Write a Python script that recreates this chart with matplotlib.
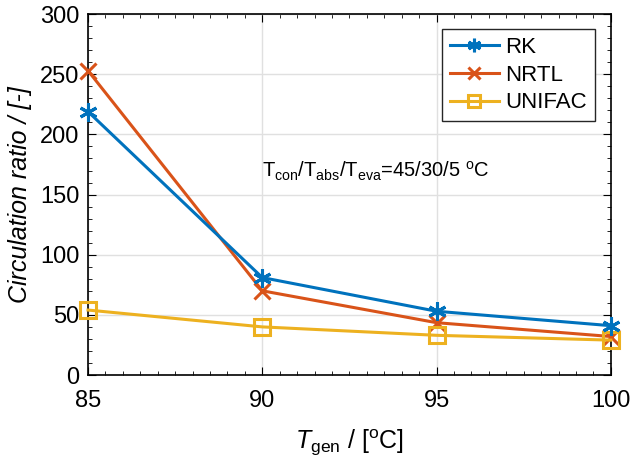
import matplotlib
matplotlib.use('Agg')
import matplotlib.pyplot as plt
from matplotlib.ticker import MultipleLocator

plt.rcParams['font.family'] = ['Liberation Sans', 'DejaVu Sans']
plt.rcParams['mathtext.fontset'] = 'custom'
plt.rcParams['mathtext.rm'] = 'Liberation Sans'
plt.rcParams['mathtext.it'] = 'Liberation Sans:italic'

# data
t_gen = [85, 90, 95, 100]
rk = [219, 81, 53, 41]
nrtl = [253, 70, 43.5, 32]
unifac = [54, 40, 33, 29]

fig = plt.figure(figsize=(6.31, 4.72), dpi=100)
ax = fig.add_axes([0.1395, 0.2055, 0.8285, 0.7645])

ax.plot(t_gen, rk, color='#0072BD', lw=2.2, marker=(6, 2, 0), ms=13, mew=2.2,
        label='RK', clip_on=False, zorder=4)
ax.plot(t_gen, nrtl, color='#D95319', lw=2.2, marker='x', ms=11, mew=2.2,
        label='NRTL', clip_on=False, zorder=3)
ax.plot(t_gen, unifac, color='#EDB120', lw=2.2, marker='s', ms=11, mew=2.2,
        mfc='none', label='UNIFAC', clip_on=False, zorder=3)

ax.set_xlim(85, 100)
ax.set_ylim(0, 300)
ax.xaxis.set_major_locator(MultipleLocator(5))
ax.xaxis.set_minor_locator(MultipleLocator(0.5))
ax.yaxis.set_major_locator(MultipleLocator(50))
ax.yaxis.set_minor_locator(MultipleLocator(10))
ax.tick_params(which='both', direction='in', top=True, right=True, labelsize=17)
ax.tick_params(which='major', length=6)
ax.tick_params(which='minor', length=3)
ax.tick_params(axis='x', pad=11)
ax.tick_params(axis='y', pad=6)
ax.grid(True, which='major', color='#e0e0e0', lw=1)
ax.set_axisbelow(True)
for s in ax.spines.values():
    s.set_linewidth(1.2)

ax.set_xlabel(r'$\mathit{T}_{\mathrm{gen}}$ / [$^{\mathrm{o}}$C]', fontsize=18, labelpad=11)
ax.set_ylabel('Circulation ratio / [-]', fontsize=18, style='italic', labelpad=6)

ax.text(90, 164.5, r'T$_{\mathrm{con}}$/T$_{\mathrm{abs}}$/T$_{\mathrm{eva}}$=45/30/5 $^{\mathrm{o}}$C',
        fontsize=14.5, va='baseline', ha='left')

leg = ax.legend(loc='upper right', fontsize=16, fancybox=False, framealpha=1,
                edgecolor='#262626', handlelength=2.2, handletextpad=0.3,
                borderpad=0.35, labelspacing=0.3, borderaxespad=0,
                markerscale=0.75, bbox_to_anchor=(0.969, 0.958))
leg.get_frame().set_linewidth(1)
leg.set_zorder(5)

fig.savefig('out.png', dpi=100)
